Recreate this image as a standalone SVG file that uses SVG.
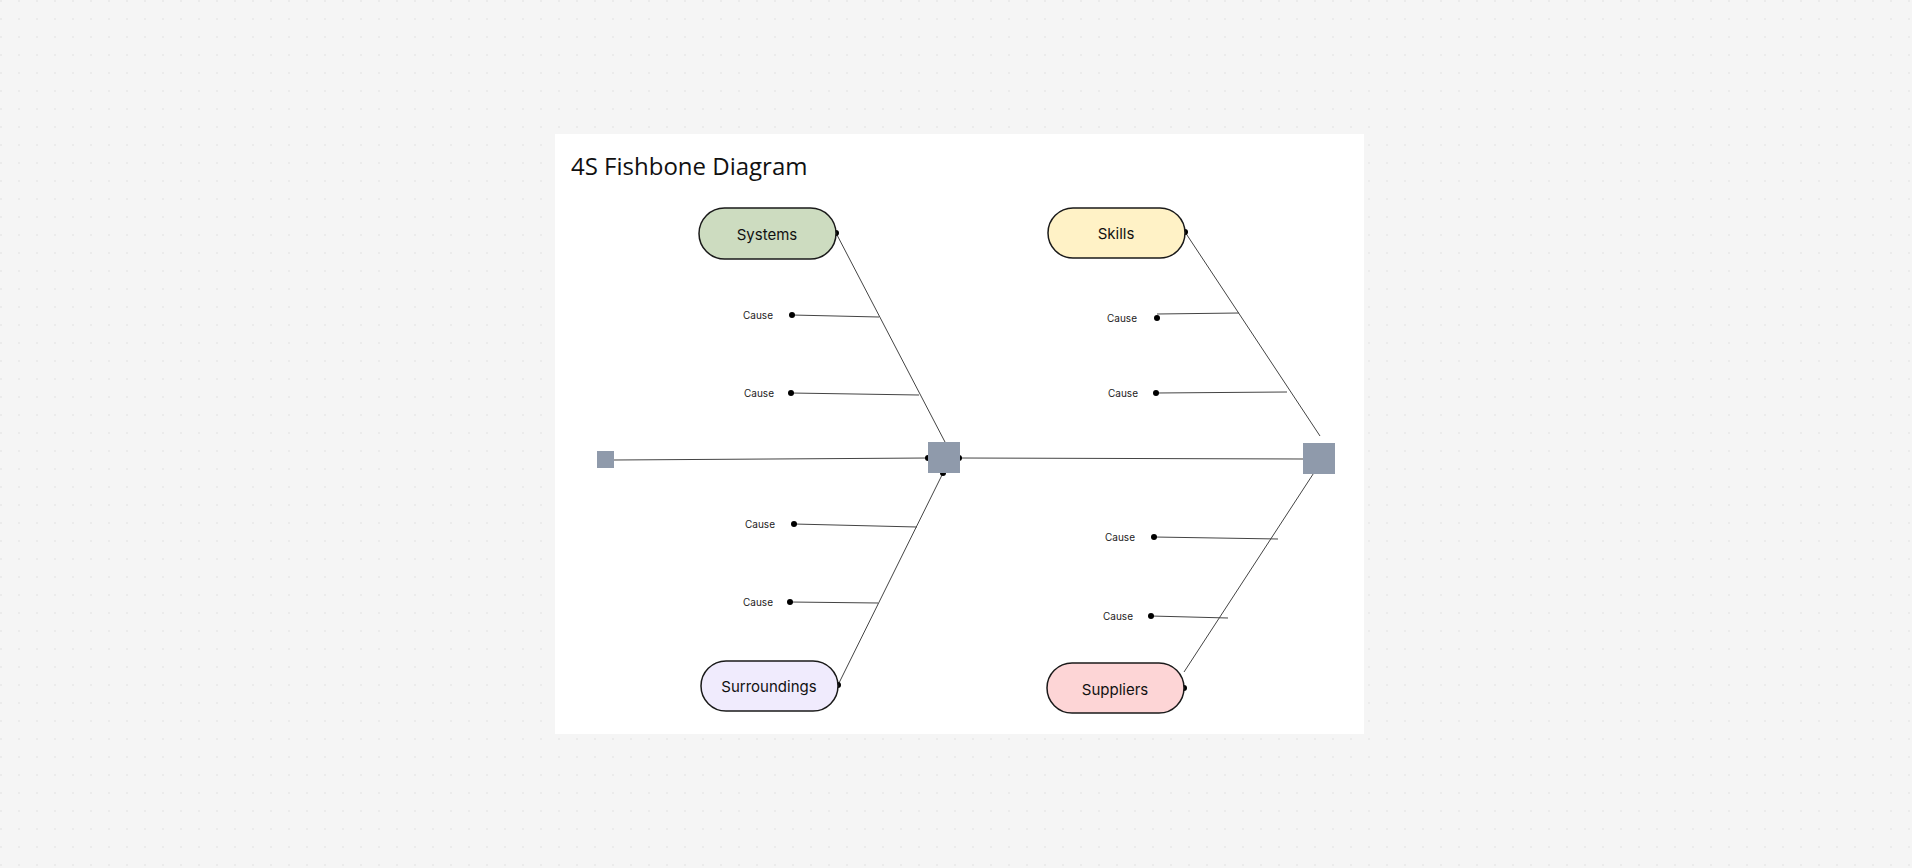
<svg xmlns="http://www.w3.org/2000/svg" width="1912" height="868" viewBox="0 0 1912 868">
<style>
.pill{stroke:#1a1a1a;stroke-width:1.5}
.pt{font-family:Inter,"Liberation Sans",sans-serif;font-size:15px;fill:#111;text-anchor:middle;dominant-baseline:central}
.ct{font-family:Inter,"Liberation Sans",sans-serif;font-size:10px;fill:#222;text-anchor:middle;dominant-baseline:central}
.ln{stroke:#444;stroke-width:1;fill:none}
.sq{fill:#8f9aab}
</style>
<defs>
<pattern id="grid" width="18" height="18" patternUnits="userSpaceOnUse"><circle cx="1" cy="1" r="0.8" fill="#e0e0e0"/></pattern>
</defs>
<rect width="1912" height="868" fill="#f5f5f5"/>
<rect width="1912" height="868" fill="url(#grid)"/>
<rect x="555" y="134" width="809" height="600" fill="#fff"/>
<text x="571" y="175" font-family="'Open Sans','Noto Sans',sans-serif" font-size="24" fill="#111">4S Fishbone Diagram</text>
<g id="connectors">
<path class="ln" d="M614 460 L928 458"/>
<path class="ln" d="M959 458 L1303 459"/>
<path class="ln" d="M836 233 L945 442"/>
<path class="ln" d="M943 473 L838 685"/>
<path class="ln" d="M1185 232 L1320 436"/>
<path class="ln" d="M1319 465 L1184 672"/>
<path class="ln" d="M792 315 L879 317"/>
<path class="ln" d="M791 393 L919 395"/>
<path class="ln" d="M794 524 L917 527"/>
<path class="ln" d="M790 602 L878 603"/>
<path class="ln" d="M1157 314 L1239 313"/>
<path class="ln" d="M1156 393 L1287 392"/>
<path class="ln" d="M1154 537 L1278 539"/>
<path class="ln" d="M1151 616 L1228 618"/>
<g fill="#000">
<circle cx="836" cy="233" r="3"/><circle cx="838" cy="685" r="3"/>
<circle cx="1185" cy="232" r="3"/><circle cx="1184" cy="688" r="3"/>
<circle cx="928" cy="458" r="3"/><circle cx="959" cy="458" r="3"/><circle cx="943" cy="473" r="3"/>
<circle cx="792" cy="315" r="3"/><circle cx="791" cy="393" r="3"/><circle cx="794" cy="524" r="3"/><circle cx="790" cy="602" r="3"/>
<circle cx="1157" cy="318" r="3"/><circle cx="1156" cy="393" r="3"/><circle cx="1154" cy="537" r="3"/><circle cx="1151" cy="616" r="3"/>
</g>
</g>
<g id="tail"><rect class="sq" x="597" y="451" width="17" height="17"/></g>
<g id="hub1"><rect class="sq" x="928" y="442" width="32" height="31"/></g>
<g id="head"><rect class="sq" x="1303" y="443" width="32" height="31"/></g>
<g id="systems"><rect class="pill" x="699" y="208" width="137" height="51" rx="25.5" fill="#cddcc0"/><text class="pt" x="767" y="234">Systems</text></g>
<g id="surroundings"><rect class="pill" x="701" y="661" width="137" height="50" rx="25" fill="#f0ebfd"/><text class="pt" x="769" y="686">Surroundings</text></g>
<g id="skills"><rect class="pill" x="1048" y="208" width="137" height="50" rx="25" fill="#fff2c6"/><text class="pt" x="1116" y="233">Skills</text></g>
<g id="suppliers"><rect class="pill" x="1047" y="663" width="137" height="50" rx="25" fill="#fdd5d6"/><text class="pt" x="1115" y="689">Suppliers</text></g>
<g id="causes">
<text class="ct" x="758" y="315">Cause</text>
<text class="ct" x="759" y="393">Cause</text>
<text class="ct" x="760" y="524">Cause</text>
<text class="ct" x="758" y="602">Cause</text>
<text class="ct" x="1122" y="318">Cause</text>
<text class="ct" x="1123" y="393">Cause</text>
<text class="ct" x="1120" y="537">Cause</text>
<text class="ct" x="1118" y="616">Cause</text>
</g>
</svg>
